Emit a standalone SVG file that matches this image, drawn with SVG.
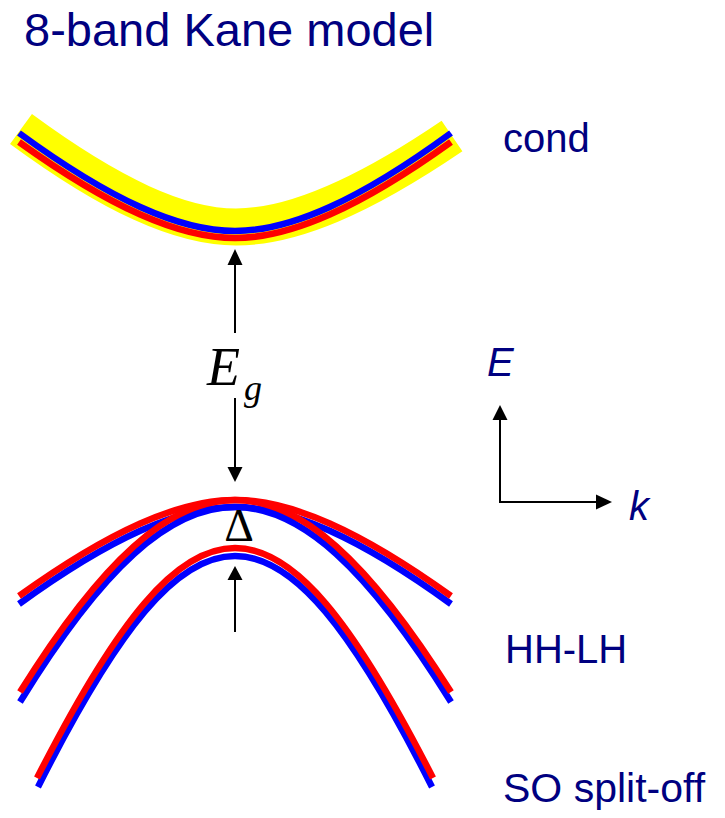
<svg xmlns="http://www.w3.org/2000/svg" width="725" height="818" viewBox="0 0 725 818">
  <style>
    .lbl { font-family: "Liberation Sans", Arial, sans-serif; fill: #000080; }
    .math { font-family: "Liberation Serif", "Times New Roman", serif; fill: #000; }
    .band { fill: none; stroke-width: 6.5; stroke-linecap: butt; }
    .red { stroke: #ff0000; }
    .blue { stroke: #0000ff; }
    .ln { stroke: #000; stroke-width: 2; fill: none; }
    .head { fill: #000; }
  </style>
  <rect width="725" height="818" fill="#ffffff"/>

  <g id="title">
    <text class="lbl" x="24" y="46" font-size="47">8-band Kane model</text>
  </g>

  <g id="conduction-band">
    <path d="M21,129 C111.6,195.6 180.4,227 236,227 C291.8,227 360.9,197.9 452,136" fill="none" stroke="#ffff00" stroke-width="37"/>
    <path class="band blue" d="M19,133 C110.1,199.6 179.2,231 235,231 C290.8,231 359.9,199.6 451,133"/>
    <path class="band red" d="M19,142 C110.1,207.3 179.2,238 235,238 C290.8,238 359.9,207.3 451,142"/>
  </g>

  <g id="light-hole-band">
    <path class="band blue" d="M19,604 C110.1,538 179.2,507 235,507 C290.8,507 359.9,538 451,604"/>
    <path class="band red" d="M19,596 C110.1,530.7 179.2,500 235,500 C290.8,500 359.9,530.7 451,596"/>
  </g>

  <g id="heavy-hole-band">
    <path class="band blue" d="M20,702 C102.5,567.4 169.4,507 235,507 C300.6,507 367.5,567.4 451,702"/>
    <path class="band red" d="M20,692 C102.5,559.5 169.4,500 235,500 C300.6,500 367.5,559.5 451,692"/>
  </g>

  <g id="split-off-band">
    <path class="band blue" d="M38,787 C118.2,627.6 176.5,556 235,556 C293.5,556 351.8,627.6 432,787"/>
    <path class="band red" d="M37,778 C117.7,619.3 176.2,548 235,548 C293.8,548 352.3,619.3 433,778"/>
  </g>

  <g id="labels">
    <text class="lbl" x="503" y="152" font-size="40">cond</text>
    <text class="lbl" x="505" y="663" font-size="40">HH-LH</text>
    <text class="lbl" x="503" y="802" font-size="41">SO split-off</text>
    <text class="lbl" x="487" y="376" font-size="40" font-style="italic">E</text>
    <text class="lbl" x="629" y="520" font-size="40" font-style="italic">k</text>
    <text class="math" x="207" y="385" font-size="54" font-style="italic">E</text>
    <text class="math" x="244" y="400" font-size="36" font-style="italic">g</text>
    <text class="math" x="239" y="541" font-size="46" text-anchor="middle">Δ</text>
  </g>

  <g id="connectors">
    <line class="ln" x1="235" y1="333" x2="235" y2="264"/>
    <polygon class="head" points="235,249 227.5,265 242.5,265"/>
    <line class="ln" x1="235" y1="398" x2="235" y2="468"/>
    <polygon class="head" points="235,482 227.5,467 242.5,467"/>
    <line class="ln" x1="235" y1="632" x2="235" y2="579"/>
    <polygon class="head" points="235,566 227.5,580 242.5,580"/>
    <line class="ln" x1="500" y1="503" x2="500" y2="419"/>
    <polygon class="head" points="500,405 492.5,420 507.5,420"/>
    <line class="ln" x1="499" y1="502" x2="597" y2="502"/>
    <polygon class="head" points="612,502 596,494.5 596,509.5"/>
  </g>
</svg>
